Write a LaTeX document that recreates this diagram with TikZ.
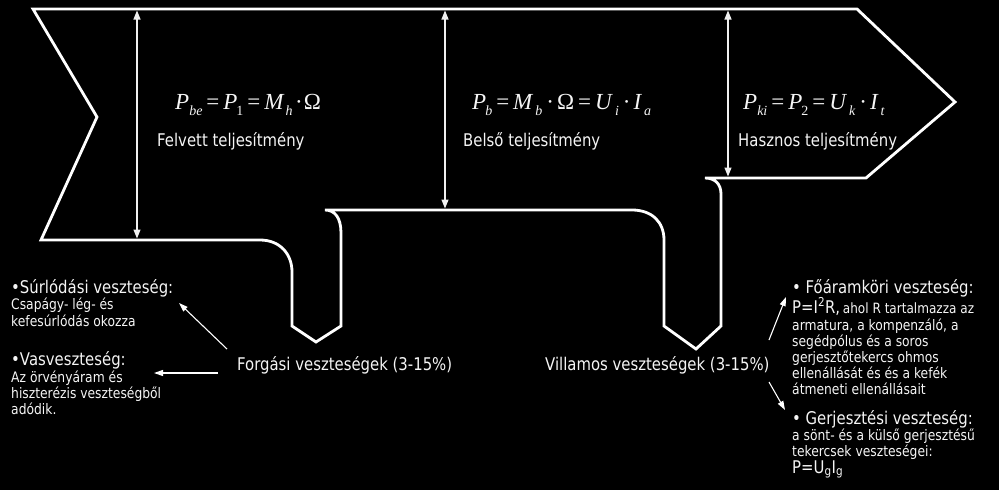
\documentclass[tikz,border=0pt]{standalone}
\usepackage{fontspec}
\setmainfont{DejaVu Sans}[FakeStretch=0.85]
\newfontfamily\tms{Liberation Serif}
\usetikzlibrary{arrows.meta}
\newcommand\fsi[1]{\raisebox{-6pt}{\fontsize{14}{14}\selectfont\itshape #1}}
\newcommand\fsu[1]{\raisebox{-6pt}{\fontsize{14}{14}\selectfont #1}}
\newcommand\ip[1]{\textit{#1}}
\newcommand\eqs{\kern4pt=\kern4pt}
\newcommand\dts{\kern2.5pt·\kern1pt}
\newcommand\dtw{\kern4pt·\kern3pt}
\tikzset{
  outline/.style={draw=white, line width=2.8pt, line join=miter},
  dimarrow/.style={draw=gray!12, line width=1.2pt, {Triangle[width=7pt,length=9pt]}-{Triangle[width=7pt,length=9pt]}},
  annarrow/.style={draw=white, line width=1.1pt, -{Triangle[width=6pt,length=9pt]}},
  txt/.style={anchor=base west, inner sep=0pt, text=gray!8},
  bigtxt/.style={txt, font=\fontsize{17.5}{21}\selectfont},
  smalltxt/.style={txt, font=\fontsize{14.5}{16}\selectfont},
  formula/.style={txt, font=\tms\fontsize{23}{24}\selectfont}
}
\begin{document}
\begin{tikzpicture}[x=1pt,y=-1pt]
\fill[black] (0,0) rectangle (999,490);
\useasboundingbox (0,0) rectangle (999,490);

% main flow outline
\draw[outline] (33,9) -- (857,9) -- (955,102) -- (866,178) -- (705,178)
  .. controls (715,178) and (721,184) .. (721,194) -- (721,326) -- (696,349) -- (664,326) -- (664,240)
  .. controls (664,222) and (652,210) .. (632,210) -- (325,210)
  .. controls (335,210) and (341,218) .. (341,233) -- (341,326) -- (316,342) -- (292,326) -- (292,272)
  .. controls (292,254) and (280,240) .. (260,240) -- (41,240) -- (97,117) -- cycle;

% dimension arrows
\coordinate (d1t) at (137,10.5); \coordinate (d1b) at (137,238.5);
\coordinate (d2t) at (445,10.5); \coordinate (d2b) at (445,208.5);
\coordinate (d3t) at (728,10.5); \coordinate (d3b) at (728,176.5);
\draw[dimarrow] (d1t) -- (d1b);
\draw[dimarrow] (d2t) -- (d2b);
\draw[dimarrow] (d3t) -- (d3b);

% formulas
\node[formula] (f1) at (175,109) {\ip{P}\fsi{be}\eqs\ip{P}\kern-1pt\fsu{1}\eqs\ip{M}\kern1pt\fsi{h}\dts Ω};
\node[formula] (f2) at (472,109) {\ip{P}\kern-1pt\fsi{b}\eqs\ip{M}\kern2pt\fsi{b}\dtw Ω\eqs\ip{U}\kern2pt\fsi{i}\dtw\ip{I}\kern2pt\fsi{a}};
\node[formula] (f3) at (743,109) {\ip{P}\fsi{ki}\eqs\ip{P}\kern-1pt\fsu{2}\eqs\ip{U}\kern2pt\fsi{k}\dtw\ip{I}\kern2pt\fsi{t}};

% labels in the band
\node[bigtxt] (l1) at (157,146) {Felvett teljesítmény};
\node[bigtxt] (l2) at (463,146) {Belső teljesítmény};
\node[bigtxt] (l3) at (738,146) {Hasznos teljesítmény};

% left losses
\node[bigtxt] (forg) at (237,370) {Forgási veszteségek (3-15\%)};
\node[bigtxt] (surl) at (11,293) {•Súrlódási veszteség:};
\node[smalltxt] (surl1) at (11,309) {Csapágy- lég- és};
\node[smalltxt] (surl2) at (11,326) {kefesúrlódás okozza};
\node[bigtxt] (vas) at (11,365) {•Vasveszteség:};
\node[smalltxt] (vas1) at (11,382) {Az örvényáram és};
\node[smalltxt] (vas2) at (11,398) {hiszterézis veszteségből};
\node[smalltxt] (vas3) at (11,414) {adódik.};

\coordinate (a1s) at (227,349); \coordinate (a1e) at (179,303);
\coordinate (a2s) at (218,373); \coordinate (a2e) at (154,373);
\draw[annarrow] (a1s) -- (a1e);
\draw[annarrow] (a2s) -- (a2e);

% right losses
\node[bigtxt] (vill) at (545,370) {Villamos veszteségek (3-15\%)};
\node[bigtxt] (foar) at (792,293) {• Főáramköri veszteség:};
\node[txt] (foar1) at (792,313) {{\fontsize{17.5}{20}\selectfont P=I\textsuperscript{2}R,} {\fontsize{14.2}{16}\selectfont ahol R tartalmazza az}};
\node[smalltxt] (foar2) at (792,330) {armatura, a kompenzáló, a};
\node[smalltxt] (foar3) at (792,346) {segédpólus és a soros};
\node[smalltxt] (foar4) at (792,362) {gerjesztőtekercs ohmos};
\node[smalltxt] (foar5) at (792,378) {ellenállását és és a kefék};
\node[smalltxt] (foar6) at (792,394) {átmeneti ellenállásait};
\node[bigtxt] (gerj) at (792,424) {• Gerjesztési veszteség:};
\node[smalltxt] (gerj1) at (792,440) {a sönt- és a külső gerjesztésű};
\node[smalltxt] (gerj2) at (792,456) {tekercsek veszteségei:};
\node[bigtxt] (gerj3) at (792,473) {P=U\textsubscript{g}I\textsubscript{g}};

\coordinate (a3s) at (769,340); \coordinate (a3e) at (786,297);
\coordinate (a4s) at (769,382); \coordinate (a4e) at (785,410);
\draw[annarrow] (a3s) -- (a3e);
\draw[annarrow] (a4s) -- (a4e);
\end{tikzpicture}
\end{document}
